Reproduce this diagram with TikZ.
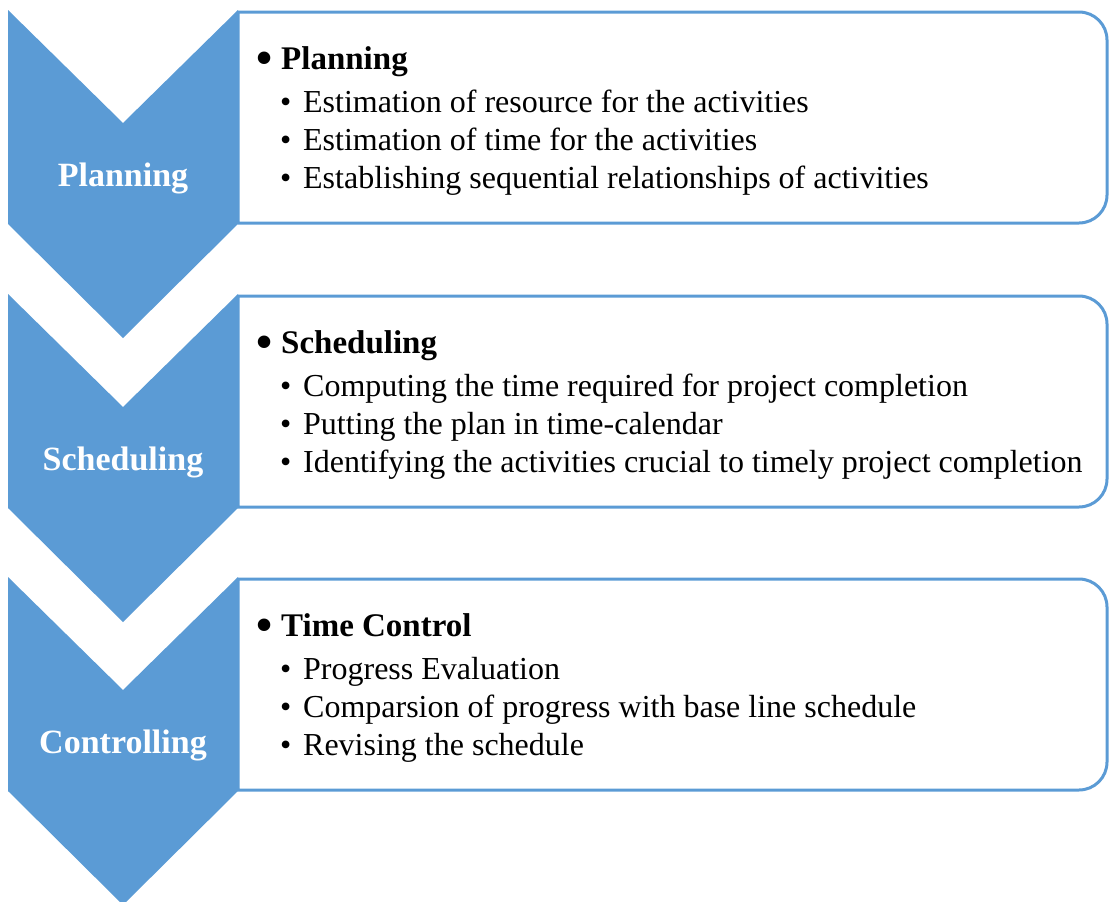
\documentclass[tikz,border=0pt]{standalone}
\usepackage{fontspec}
\setmainfont{Liberation Serif}
\usepackage{tikz}
\definecolor{stageblue}{HTML}{5B9BD5}

\begin{document}
\begin{tikzpicture}[x=1pt,y=1pt]
      \tikzset{chevron/.style={fill=stageblue},
        boxline/.style={draw=stageblue, line width=3pt, line join=round},
        stagelabel/.style={anchor=base, inner sep=0pt, text=white,
          font=\fontsize{34}{40}\selectfont\bfseries},
        headtext/.style={anchor=base west, inner sep=0pt,
          font=\fontsize{33}{40}\selectfont\bfseries},
        itemtext/.style={anchor=base west, inner sep=0pt,
          font=\fontsize{32}{38}\selectfont}
      }
      \useasboundingbox (0,0) rectangle (1109,-902);

      \foreach \t/\lab/\head/\itemA/\itemB/\itemC [count=\i] in {
        10/Planning/Planning/Estimation of resource for the activities/Estimation of time for the activities/Establishing sequential relationships of activities,
        294/Scheduling/Scheduling/Computing the time required for project completion/Putting the plan in time-calendar/Identifying the activities crucial to timely project completion,
        577/Controlling/Time Control/Progress Evaluation/Comparsion of progress with base line schedule/Revising the schedule}
      {
        % text box, square on the left, round on the right
        \draw [boxline] (238,-\t-2) -- (1079,-\t-2)
          arc [start angle=90, end angle=0, radius=28] -- (1107,-\t-185)
          arc [start angle=0, end angle=-90, radius=28] -- (238,-\t-213) -- cycle;
        % chevron
        \fill [chevron] (8,-\t) -- (123,-\t-113) -- (238,-\t) -- (238,-\t-214)
          -- (123,-\t-328) -- (8,-\t-214) -- cycle;
        \node [stagelabel] (stage\i) at (123,-\t-176) {\lab};

        \node [headtext] (head\i) at (256,-\t-59)
          {\makebox[25pt][l]{\raisebox{-4pt}{\fontsize{46}{46}\selectfont\textbullet}}\head};
        \node [itemtext] (itemA\i) at (280,-\t-102)
          {\makebox[23pt][l]{\textbullet}\itemA};
        \node [itemtext] (itemB\i) at (280,-\t-140)
          {\makebox[23pt][l]{\textbullet}\itemB};
        \node [itemtext] (itemC\i) at (280,-\t-178)
          {\makebox[23pt][l]{\textbullet}\itemC};
      }
    \end{tikzpicture}
\end{document}
